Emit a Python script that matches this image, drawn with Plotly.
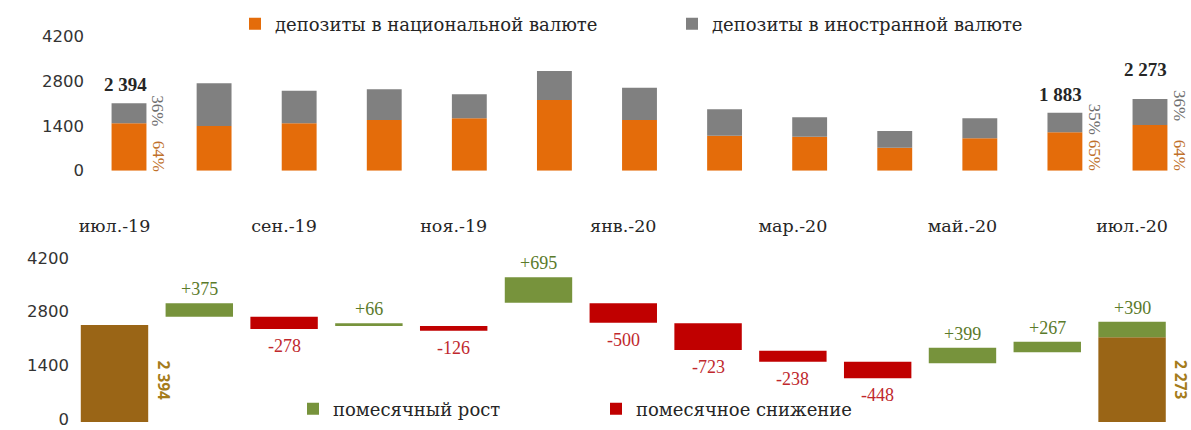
import plotly.graph_objects as go

# ---------------- data ----------------
months = ["июл.-19", "авг.-19", "сен.-19", "окт.-19", "ноя.-19", "дек.-19", "янв.-20",
          "фев.-20", "мар.-20", "апр.-20", "май.-20", "июн.-20", "июл.-20"]
tick_months = ["июл.-19", "сен.-19", "ноя.-19", "янв.-20", "мар.-20", "май.-20", "июл.-20"]

# top panel: deposits (as drawn)
dep_national = [1478, 1394, 1478, 1581, 1634, 2204, 1581, 1091, 1060, 717, 1010, 1197, 1425]
dep_foreign = [624, 1331, 1016, 957, 748, 905, 1007, 823, 605, 521, 624, 611, 811]
lab_idx = [0, 11, 12]
lab_total = ["2 394", "1 883", "2 273"]
lab_share_nat = ["64%", "65%", "64%"]
lab_share_for = ["36%", "35%", "36%"]

# bottom panel: waterfall (as drawn)
tot_idx = [0, 12]
tot_val = [2531, 2210]
tot_labels = ["2 394", "2 273"]
rise_idx = [1, 3, 5, 10, 11, 12]
rise_base = [2747, 2505, 3113, 1531, 1818, 2210]
rise_val = [350, 70, 662, 407, 277, 407]
rise_labels = ["+375", "+66", "+695", "+399", "+267", "+390"]
fall_idx = [2, 4, 6, 7, 8, 9]
fall_top = [2747, 2505, 3097, 2575, 1860, 1573]
fall_val = [321, 123, 506, 697, 287, 433]
fall_labels = ["-278", "-126", "-500", "-723", "-238", "-448"]

y_ticks = [0, 1400, 2800, 4200]

# ---------------- style ----------------
C_ORANGE = "#E46C0A"
C_GRAY = "#808080"
C_GREEN = "#77933C"
C_RED = "#C00000"
C_BROWN = "#9A6516"
SERIF = "DejaVu Serif"
TSERIF = "Liberation Serif"
SANS = "DejaVu Sans"

W, H = 1191, 430

fig = go.Figure()

# top stacked bars
fig.add_trace(go.Bar(x=months, y=dep_national, base=[0] * len(months), width=0.41,
                     marker=dict(color=C_ORANGE, line=dict(width=0)),
                     name="депозиты в национальной валюте", xaxis="x", yaxis="y",
                     legend="legend"))
fig.add_trace(go.Bar(x=months, y=dep_foreign, base=dep_national, width=0.41,
                     marker=dict(color=C_GRAY, line=dict(width=0)),
                     name="депозиты в иностранной валюте", xaxis="x", yaxis="y",
                     legend="legend"))

# bottom waterfall
fig.add_trace(go.Bar(x=[months[i] for i in tot_idx], y=tot_val, base=[0] * len(tot_idx),
                     width=0.795, marker=dict(color=C_BROWN, line=dict(width=0)),
                     showlegend=False, xaxis="x2", yaxis="y2"))
fig.add_trace(go.Bar(x=[months[i] for i in rise_idx], y=rise_val, base=rise_base,
                     width=0.795, marker=dict(color=C_GREEN, line=dict(width=0)),
                     name="помесячный рост", xaxis="x2", yaxis="y2", legend="legend2"))
fig.add_trace(go.Bar(x=[months[i] for i in fall_idx], y=[-v for v in fall_val], base=fall_top,
                     width=0.795, marker=dict(color=C_RED, line=dict(width=0)),
                     name="помесячное снижение", xaxis="x2", yaxis="y2", legend="legend2"))

ann = []
for k, i in enumerate(lab_idx):
    tot = dep_national[i] + dep_foreign[i]
    ann.append(dict(x=months[i], y=tot, xref="x", yref="y", text="<b>" + lab_total[k] + "</b>",
                    showarrow=False, xanchor="center", yanchor="bottom", xshift=-4,
                    yshift=17 if i == 12 else 6,
                    font=dict(family=TSERIF, size=19, color="#262626")))
    ann.append(dict(x=months[i], y=tot, xref="x", yref="y", text=lab_share_for[k],
                    showarrow=False, textangle=90, xanchor="center", yanchor="middle",
                    xshift=29, yshift=-7, font=dict(family=TSERIF, size=17, color="#6E6E6E")))
    ann.append(dict(x=months[i], y=0, xref="x", yref="y", text=lab_share_nat[k],
                    showarrow=False, textangle=90, xanchor="center", yanchor="middle",
                    xshift=29, yshift=15, font=dict(family=TSERIF, size=17, color="#C0712B")))

for k, i in enumerate(rise_idx):
    ann.append(dict(x=months[i], y=rise_base[k] + rise_val[k], xref="x2", yref="y2",
                    text=rise_labels[k], showarrow=False, xanchor="center", yanchor="middle",
                    yshift=14, font=dict(family=TSERIF, size=18, color="#5A7A2A")))
for k, i in enumerate(fall_idx):
    ann.append(dict(x=months[i], y=fall_top[k] - fall_val[k], xref="x2", yref="y2",
                    text=fall_labels[k], showarrow=False, xanchor="center", yanchor="middle",
                    yshift=-17, font=dict(family=TSERIF, size=18, color="#C0282D")))
for k, i in enumerate(tot_idx):
    ann.append(dict(x=months[i], y=0, xref="x2", yref="y2", text="<b>" + tot_labels[k] + "</b>",
                    showarrow=False, textangle=90, xanchor="center", yanchor="middle",
                    xshift=49, yshift=42, font=dict(family="Open Sans", size=15.5, color="#A57C1B")))


def px_x(p):
    return p / W


def px_y(p):
    return (H - p) / H


axis_common = dict(showgrid=False, zeroline=False, showline=False, ticks="")

fig.update_layout(
    width=W, height=H,
    margin=dict(l=0, r=0, t=0, b=0, pad=0, autoexpand=False),
    paper_bgcolor="white", plot_bgcolor="white",
    barmode="overlay",
    xaxis=dict(domain=[px_x(70), 1], range=[-0.6935, 12.482], visible=False,
               categoryorder="array", categoryarray=months,
               anchor="y", **axis_common),
    yaxis=dict(domain=[px_y(170.7), px_y(36)], range=[0, 4200], anchor="free",
               position=px_x(84), ticklabeloverflow="allow",
               tickmode="array", tickvals=y_ticks,
               tickfont=dict(family=SANS, size=16.5, color="#333333"), **axis_common),
    xaxis2=dict(domain=[px_x(56), 1], range=[-0.6899, 12.695], anchor="y2", side="top",
                categoryorder="array", categoryarray=months,
                tickmode="array", tickvals=tick_months, ticktext=tick_months,
                ticklabelstandoff=25,
                tickfont=dict(family=SERIF, size=17.5, color="#262626"), **axis_common),
    yaxis2=dict(domain=[px_y(422), px_y(261)], range=[0, 4200], anchor="free",
                position=px_x(69), ticklabeloverflow="allow", ticklabelshift=-3,
                tickmode="array", tickvals=y_ticks,
                tickfont=dict(family=SANS, size=16.5, color="#333333"), **axis_common),
    legend=dict(orientation="h", x=px_x(235), xanchor="left", y=px_y(24), yanchor="middle",
                entrywidth=392, entrywidthmode="pixels", bgcolor="rgba(0,0,0,0)",
                font=dict(family=SERIF, size=18, color="#262626"), itemwidth=30),
    legend2=dict(orientation="h", x=px_x(293), xanchor="left", y=px_y(409), yanchor="middle",
                 entrywidth=258, entrywidthmode="pixels", bgcolor="rgba(0,0,0,0)",
                 font=dict(family=SERIF, size=18, color="#262626"), itemwidth=30),
    annotations=ann,
    showlegend=True,
)

fig.write_html("out.html", config={"displayModeBar": False},
               post_script="document.body.style.margin='0px';document.body.style.overflow='hidden';")
